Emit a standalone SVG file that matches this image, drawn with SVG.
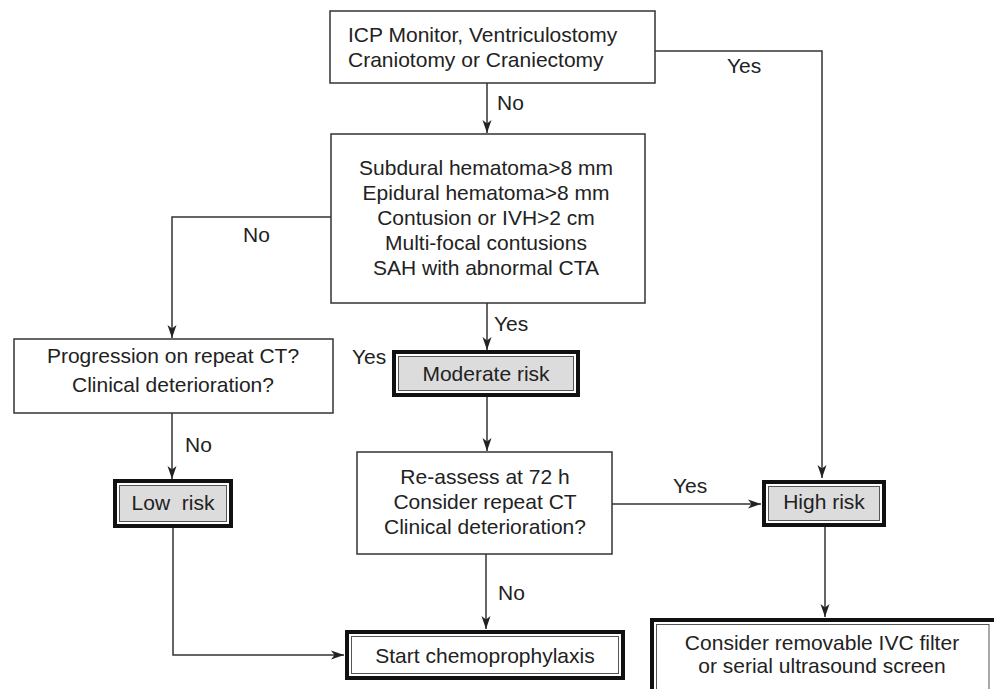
<svg xmlns="http://www.w3.org/2000/svg" width="994" height="689" viewBox="0 0 994 689">
  <style>
    text { font-family: "Liberation Sans", Arial, sans-serif; font-size: 21px; fill: #222; }
    .c { text-anchor: middle; }
    .box { fill: #fff; stroke: #333; stroke-width: 1.5; }
    .outer { fill: #fff; stroke: #111; stroke-width: 4; }
    .inner { fill: #fff; stroke: #555; stroke-width: 1; }
    .risk { fill: #dcdcdc; }
    .wire { fill: none; stroke: #333; stroke-width: 1.5; }
  </style>
  <defs>
    <marker id="arrow" markerUnits="userSpaceOnUse" markerWidth="14" markerHeight="10" viewBox="0 0 14 10" refX="13" refY="5" orient="auto">
      <path d="M0,0.5 L13,5 L0,9.5 L3.5,5 Z" fill="#222"/>
    </marker>
  </defs>

  <!-- decision boxes -->
  <g id="procedures">
    <rect class="box" x="330" y="11" width="325" height="72"/>
    <text x="348" y="42">ICP Monitor, Ventriculostomy</text>
    <text x="348" y="67">Craniotomy or Craniectomy</text>
  </g>

  <g id="ct-findings">
    <rect class="box" x="331" y="134" width="314" height="169"/>
    <text class="c" x="486" y="175">Subdural hematoma&gt;8 mm</text>
    <text class="c" x="486" y="200">Epidural hematoma&gt;8 mm</text>
    <text class="c" x="486" y="225">Contusion or IVH&gt;2 cm</text>
    <text class="c" x="486" y="250">Multi-focal contusions</text>
    <text class="c" x="486" y="275">SAH with abnormal CTA</text>
  </g>

  <g id="progression">
    <rect class="box" x="14" y="339" width="319" height="74"/>
    <text class="c" x="173" y="363">Progression on repeat CT?</text>
    <text class="c" x="173" y="392">Clinical deterioration?</text>
  </g>

  <g id="reassess">
    <rect class="box" x="357" y="452" width="255" height="102"/>
    <text class="c" x="485" y="484">Re-assess at 72 h</text>
    <text class="c" x="485" y="509">Consider repeat CT</text>
    <text class="c" x="485" y="534">Clinical deterioration?</text>
  </g>

  <!-- risk categories -->
  <g id="moderate-risk">
    <rect class="outer" x="394" y="352" width="184" height="43"/>
    <rect class="inner risk" x="398.5" y="356.5" width="175" height="34"/>
    <text class="c" x="486" y="381">Moderate risk</text>
  </g>

  <g id="low-risk">
    <rect class="outer" x="115" y="481" width="116" height="45"/>
    <rect class="inner risk" x="119.5" y="485.5" width="107" height="36"/>
    <text class="c" x="173" y="510" xml:space="preserve">Low  risk</text>
  </g>

  <g id="high-risk">
    <rect class="outer" x="764" y="482" width="120" height="43"/>
    <rect class="inner risk" x="768.5" y="486.5" width="111" height="34"/>
    <text class="c" x="824" y="509">High risk</text>
  </g>

  <!-- outcomes -->
  <g id="chemoprophylaxis">
    <rect class="outer" x="347" y="632" width="276" height="46"/>
    <rect class="inner" x="351.5" y="636.5" width="267" height="37"/>
    <text class="c" x="485" y="663">Start chemoprophylaxis</text>
  </g>

  <g id="ivc-filter">
    <rect class="outer" x="652" y="620" width="350" height="100"/>
    <rect class="inner" x="656.5" y="624.5" width="332.5" height="91"/>
    <text class="c" x="822" y="650">Consider removable IVC filter</text>
    <text class="c" x="822" y="673">or serial ultrasound screen</text>
  </g>

  <!-- connectors -->
  <g id="connectors">
    <path class="wire" marker-end="url(#arrow)" d="M655,51 H822 V478"/>
    <path class="wire" marker-end="url(#arrow)" d="M487,83 V133"/>
    <path class="wire" marker-end="url(#arrow)" d="M331,217 H172 V338"/>
    <path class="wire" marker-end="url(#arrow)" d="M487,303 V350"/>
    <path class="wire" marker-end="url(#arrow)" d="M172,413 V479"/>
    <path class="wire" marker-end="url(#arrow)" d="M487,397 V451"/>
    <path class="wire" marker-end="url(#arrow)" d="M612,504 H761"/>
    <path class="wire" marker-end="url(#arrow)" d="M486,554 V629"/>
    <path class="wire" marker-end="url(#arrow)" d="M825,527 V617"/>
    <path class="wire" marker-end="url(#arrow)" d="M173,528 V655 H344"/>
  </g>

  <!-- branch labels -->
  <g id="labels">
    <text x="727" y="73">Yes</text>
    <text x="497" y="110">No</text>
    <text x="243" y="242">No</text>
    <text x="494" y="331">Yes</text>
    <text x="352" y="364">Yes</text>
    <text x="185" y="452">No</text>
    <text x="673" y="493">Yes</text>
    <text x="498" y="600">No</text>
  </g>
</svg>
